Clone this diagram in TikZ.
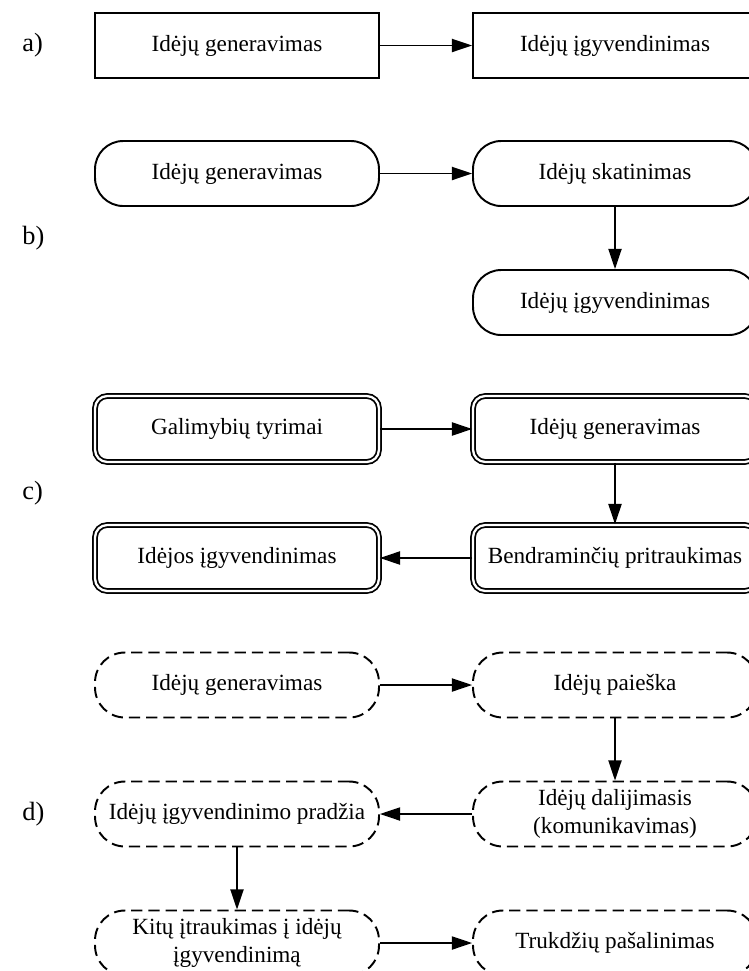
\documentclass[tikz,border=0pt]{standalone}
\usepackage{fontspec}
\setmainfont{Liberation Serif}
\usetikzlibrary{arrows.meta}

\begin{document}
\begin{tikzpicture}[
    x=0.02cm, y=-0.02cm,
    every node/.style={font=\fontsize{13.2}{15.6}\selectfont},
    plainbox/.style={draw, line width=1.1pt, minimum width=5.68cm, minimum height=1.3cm, inner sep=2pt, align=center},
    roundbox/.style={plainbox, rounded corners=16pt},
    doublebox/.style={plainbox, line width=1pt, double, double distance=1.3pt, rounded corners=7pt, minimum height=1.32cm},
    dashbox/.style={plainbox, dash pattern=on 6.4pt off 3.4pt, rounded corners=17pt},
    flow/.style={draw, line width=0.9pt, -{Triangle[length=11.5pt, width=7.5pt]}},
    tag/.style={anchor=west, inner sep=0pt, font=\fontsize{15}{18}\selectfont}
]
\useasboundingbox (0,0) rectangle (748,971);

% a)
\node[tag] (la) at (22,45) {a)};
\node[plainbox] (a1) at (237,45.5) {Idėjų generavimas};
\node[plainbox] (a2) at (615,45.5) {Idėjų įgyvendinimas};

% b)
\node[tag] (lb) at (22,238) {b)};
\node[roundbox] (b1) at (237,173.5) {Idėjų generavimas};
\node[roundbox] (b2) at (615,173.5) {Idėjų skatinimas};
\node[roundbox] (b3) at (615,302.5) {Idėjų įgyvendinimas};

% c)
\node[tag] (lc) at (22,493) {c)};
\node[doublebox] (c1) at (237,429) {Galimybių tyrimai};
\node[doublebox] (c2) at (615,429) {Idėjų generavimas};
\node[doublebox] (c3) at (615,558) {Bendraminčių pritraukimas};
\node[doublebox] (c4) at (237,558) {Idėjos įgyvendinimas};

% d)
\node[tag] (ld) at (22,814) {d)};
\node[dashbox] (d1) at (237,685) {Idėjų generavimas};
\node[dashbox] (d2) at (615,685) {Idėjų paieška};
\node[dashbox] (d3) at (615,814) {Idėjų dalijimasis\\(komunikavimas)};
\node[dashbox] (d4) at (237,814) {Idėjų įgyvendinimo pradžia};
\node[dashbox] (d5) at (237,943) {Kitų įtraukimas į idėjų\\įgyvendinimą};
\node[dashbox] (d6) at (615,943) {Trukdžių pašalinimas};

% connectors
\path[flow] (a1) -- (a2);
\path[flow] (b1) -- (b2);
\path[flow] (b2) -- (b3);
\path[flow] (c1) -- (c2);
\path[flow] (c2) -- (c3);
\path[flow] (c3) -- (c4);
\path[flow] (d1) -- (d2);
\path[flow] (d2) -- (d3);
\path[flow] (d3) -- (d4);
\path[flow] (d4) -- (d5);
\path[flow] (d5) -- (d6);

\end{tikzpicture}
\end{document}
